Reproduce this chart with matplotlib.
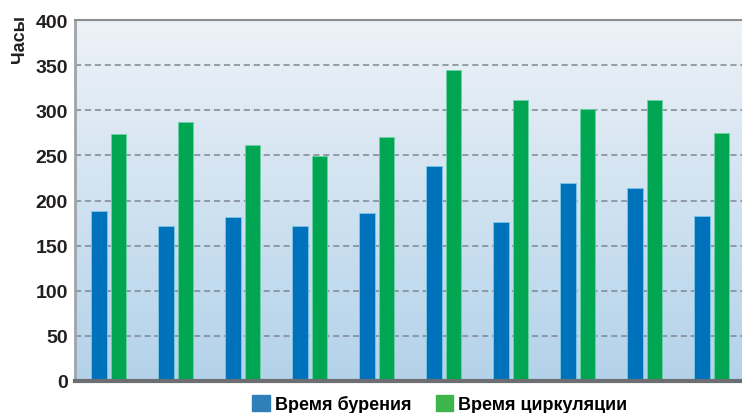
import matplotlib.pyplot as plt
import numpy as np
from matplotlib.colors import LinearSegmentedColormap
from matplotlib.patches import Rectangle

plt.rcParams["font.family"] = ["Liberation Sans Narrow", "Liberation Sans", "DejaVu Sans"]

groups = list(range(10))
drilling = [188, 172, 182, 172, 186, 238, 176, 219, 214, 183]
circulation = [274, 287, 262, 249, 270, 345, 311, 302, 311, 275]
yticks = [0, 50, 100, 150, 200, 250, 300, 350, 400]
labels = ["Время бурения", "Время циркуляции"]
blue = "#0072bc"
green = "#00a651"

fig = plt.figure(figsize=(7.42, 4.14), dpi=100)
ax = fig.add_axes([0.1011, 0.0773, 0.8989, 0.8717])

xmin, xmax = -0.5, 9.455
grad = LinearSegmentedColormap.from_list("bg", ["#b3d2ea", "#edf2f7"])
ax.imshow(np.linspace(0, 1, 256)[:, None], extent=[xmin, xmax, 0, 400],
          origin="lower", aspect="auto", cmap=grad, zorder=0)

for y in yticks[1:-1]:
    ax.axhline(y, color="#7d8791", linestyle=(0, (4, 2.5)), linewidth=1.1, zorder=1)

x = np.array(groups)
w = 0.224
off = 0.142
ax.bar(x - off, drilling, width=w, color=blue, edgecolor="#7fc6e6", linewidth=0.6, zorder=2)
ax.bar(x + off, circulation, width=w, color=green, edgecolor="#6fd0a8", linewidth=0.6, zorder=2)

ax.set_xlim(xmin, xmax)
ax.set_ylim(0, 400)
ax.set_xticks([])
ax.set_yticks(yticks)
ax.set_yticklabels([str(v) for v in yticks], fontsize=14, fontweight="bold", color="#231f20")
ax.tick_params(axis="y", length=0, pad=5)

ax.spines["right"].set_visible(False)
ax.spines["top"].set_color("#8a8f94")
ax.spines["top"].set_linewidth(1.5)
ax.spines["left"].set_color("#a0a4a8")
ax.spines["left"].set_linewidth(2)
ax.spines["bottom"].set_color("#6d6e71")
ax.spines["bottom"].set_linewidth(3)

fig.text(0.026, 0.905, "Часы", rotation=90, ha="center", va="center",
         fontsize=13, fontweight="bold", color="#231f20")

handles = [Rectangle((0, 0), 1, 1, color="#2f80b8"), Rectangle((0, 0), 1, 1, color="#3db54a")]
fig.legend(handles, labels, loc="lower center", bbox_to_anchor=(0.593, -0.04), ncol=2,
           frameon=False, handlelength=0.95, handleheight=0.95, handletextpad=0.3,
           columnspacing=1.35, prop={"size": 13, "weight": "bold"})

fig.savefig("out.png", dpi=100)
